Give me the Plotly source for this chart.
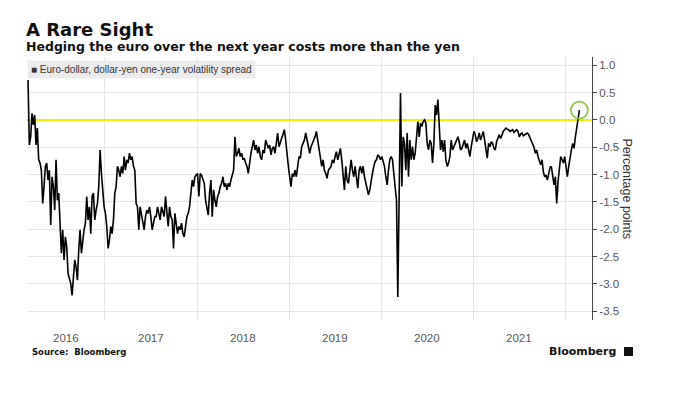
import pandas as pd
import plotly.graph_objects as go

# ---- data (percentage points), roughly 5-day spacing ----
spread_2016_17 = [0.73, -0.46, -0.31, 0.12, -0.09, 0.09, -0.46, -0.15, -0.73, -0.79,
                  -0.92, -1.53, -1.22, -0.85, -0.79, -1.10, -0.92, -1.92, -1.04, -1.22,
                  -1.65, -0.73, -1.47, -1.34, -1.89, -2.44, -2.01, -2.56, -2.14, -2.32,
                  -2.81, -2.93, -2.99, -3.21, -2.93, -2.56, -2.69, -2.93, -2.38, -2.01,
                  -2.44, -2.20, -2.01, -1.89, -1.40, -1.83, -1.59, -2.08, -1.40, -1.34,
                  -1.83, -1.65, -1.53, -1.22, -0.55, -0.98, -1.34, -1.59, -1.71, -1.95,
                  -2.35, -2.20, -1.95, -2.08, -1.83, -1.34, -1.22, -0.85, -0.92, -1.04,
                  -0.85, -0.98, -0.67, -0.92, -0.73, -0.79, -0.61, -0.73, -0.67, -0.85,
                  -0.92, -1.53, -1.59, -2.01, -1.59, -1.71, -1.83, -2.01, -1.77, -1.65,
                  -1.71, -1.59, -1.77, -2.01, -1.89, -1.77, -1.77, -1.59, -1.71, -1.83,
                  -1.59, -1.71, -1.77, -1.40, -1.65, -1.95, -1.59, -1.77]

spread_2017_19 = [-1.83, -2.35, -1.71, -1.89, -2.08, -1.95, -2.01, -1.89, -2.08, -2.14,
                  -1.95, -1.77, -1.71, -1.59, -1.34, -1.10, -1.22, -1.04, -1.01, -0.98,
                  -1.40, -0.98, -1.01, -1.10, -1.16, -1.47, -1.59, -1.74, -1.34, -1.10,
                  -1.77, -1.28, -1.47, -1.59, -1.40, -1.34, -1.22, -1.16, -1.04, -1.22,
                  -1.16, -1.28, -1.16, -1.22, -1.10, -0.98, -0.92,
                  -0.31, -0.67, -0.61, -0.52, -0.67, -0.61, -0.73, -0.70, -0.79, -0.85,
                  -0.98, -0.73, -0.61, -0.49, -0.37, -0.55, -0.46, -0.61, -0.49, -0.67,
                  -0.73, -0.55, -0.61, -0.37, -0.43, -0.52, -0.46, -0.64, -0.52, -0.49,
                  -0.61, -0.37, -0.24, -0.49, -0.40, -0.31, -0.24, -0.18, -0.37, -0.67,
                  -0.85, -1.04, -1.22, -0.98, -1.04, -0.92, -1.04, -0.85, -0.67, -0.70,
                  -0.49, -0.43, -0.37, -0.24, -0.37, -0.52, -0.61]

spread_2019_20 = [-0.49, -0.43, -0.40, -0.31, -0.21, -0.37, -0.49, -0.67, -0.85, -0.73,
                  -0.92, -0.98, -1.07, -0.92, -0.89, -0.85, -0.73, -0.79, -0.67, -0.58,
                  -0.73, -0.61, -0.52, -0.73, -1.04, -1.28, -0.85, -1.10, -1.16, -0.98,
                  -0.73, -0.92, -1.04, -0.85, -1.04, -1.25, -0.92, -0.85, -0.98, -0.85,
                  -1.04, -1.16, -1.22, -1.37, -1.28, -1.10, -0.98, -0.85, -0.76, -0.73,
                  -0.64, -0.67, -0.73, -0.67, -0.79, -0.85, -1.04, -1.19, -0.92, -0.73,
                  -0.67, -0.73, -0.98,
                  -1.22, -1.47, -3.24, -0.73, 0.49, -1.22, -0.31, -0.43, -0.92, -0.24,
                  -1.04, -0.37, -0.73, -0.49, -0.73, -0.61, -0.24, -0.03, -0.31, -0.06,
                  -0.12, -0.03, 0.00, -0.06, -0.43, -0.55, -0.37, -0.43, -0.79, -0.43,
                  0.27, 0.09, 0.37, -0.18, -0.55, -0.37, -0.58, -0.37, -0.73, -0.85,
                  -0.79, -0.67]

spread_2020_22 = [-0.37, -0.55, -0.49, -0.43, -0.37, -0.31, -0.40, -0.55, -0.52, -0.43,
                  -0.37, -0.52, -0.43, -0.55, -0.67, -0.49, -0.37, -0.21, -0.27, -0.40,
                  -0.34, -0.24, -0.37, -0.27, -0.21, -0.37, -0.55, -0.70, -0.43, -0.49,
                  -0.40, -0.43, -0.52, -0.55, -0.40, -0.34, -0.27, -0.34, -0.27, -0.21,
                  -0.18, -0.15, -0.17, -0.18, -0.21, -0.20, -0.18, -0.23, -0.21, -0.18,
                  -0.21, -0.31, -0.26, -0.24, -0.29, -0.27, -0.26, -0.24, -0.27, -0.32,
                  -0.37, -0.43, -0.50, -0.61, -0.55, -0.67, -0.73, -0.82, -0.73, -0.95,
                  -1.04, -1.01, -1.10, -0.95, -0.87, -0.85, -1.01, -1.19, -1.04, -1.53,
                  -1.13, -0.95, -0.67, -0.73, -0.79, -0.67, -0.92, -1.04, -0.85, -0.67,
                  -0.55, -0.43, -0.52, -0.31, -0.12, -0.03, 0.18]

START_DATE = "2016-03-02"
END_DATE = "2022-02-25"

X_RANGE = ["2016-02-27", "2022-04-16"]
YEAR_BOUNDS = ["2017-01-01", "2018-01-01", "2019-01-01", "2020-01-01", "2021-01-01", "2022-01-01"]
YEAR_LABELS = ["2016", "2017", "2018", "2019", "2020", "2021"]

Y_RANGE = [-3.66, 1.15]
Y_TICKS = [1.0, 0.5, 0.0, -0.5, -1.0, -1.5, -2.0, -2.5, -3.0, -3.5]
Y_TICKTEXT = ["1.0", "0.5", "0.0", "-0.5", "-1.0", "-1.5", "-2.0", "-2.5", "-3.0", "-3.5"]

# ---- build ----
values = spread_2016_17 + spread_2017_19 + spread_2019_20 + spread_2020_22
dates = pd.date_range(START_DATE, END_DATE, periods=len(values))

# year label positions: centre of the visible part of each year
rng_lo, rng_hi = pd.Timestamp(X_RANGE[0]), pd.Timestamp(X_RANGE[1])
label_pos = []
for y in YEAR_LABELS:
    a = max(pd.Timestamp(f"{y}-01-01"), rng_lo)
    b = min(pd.Timestamp(f"{int(y) + 1}-01-01"), rng_hi)
    label_pos.append(a + (b - a) / 2)

FONT = "DejaVu Sans"
TICKFONT = "Liberation Sans"

fig = go.Figure()
fig.add_trace(go.Scatter(x=dates, y=values, mode="lines",
                         line=dict(color="#000000", width=1.6),
                         hoverinfo="skip", showlegend=False))
fig.add_trace(go.Scatter(x=[dates[-1]], y=[values[-1]], mode="markers",
                         marker=dict(symbol="circle-open", size=17, color="#8cc63f",
                                     line=dict(width=1.7, color="#8cc63f")),
                         hoverinfo="skip", showlegend=False))

annotations = [
    dict(text="<b>A Rare Sight</b>", xref="paper", yref="paper", x=0, y=1.1046,
         xanchor="left", yanchor="middle", showarrow=False, xshift=-3,
         font=dict(family=FONT, size=18, color="#111111")),
    dict(text="<b>Hedging the euro over the next year costs more than the yen</b>",
         xref="paper", yref="paper", x=0, y=1.040, xanchor="left", yanchor="middle",
         showarrow=False, xshift=-3, font=dict(family=FONT, size=12.5, color="#111111")),
    dict(text="■ Euro-dollar, dollar-yen one-year volatility spread",
         xref="paper", yref="paper", x=0, y=0.9886, xanchor="left", yanchor="top",
         showarrow=False, bgcolor="#ebebeb", borderpad=3,
         font=dict(family=TICKFONT, size=10, color="#333333")),
    dict(text="Percentage points", xref="paper", yref="paper", x=1.062, y=0.5,
         xanchor="center", yanchor="middle", textangle=90, showarrow=False,
         font=dict(family=TICKFONT, size=12.5, color="#333333")),
    dict(text="<b>Source:  Bloomberg</b>", xref="paper", yref="paper", x=0.0053,
         y=-0.1217, xanchor="left", yanchor="middle", showarrow=False,
         font=dict(family=FONT, size=8.5, color="#111111")),
    dict(text="<b>Bloomberg</b>", xref="paper", yref="paper", x=1.046, y=-0.118,
         xanchor="right", yanchor="middle", showarrow=False,
         font=dict(family=FONT, size=11, color="#111111")),
]
# year tick labels (centred in each visible year)
for pos, lab in zip(label_pos, YEAR_LABELS):
    annotations.append(dict(text=lab, xref="x", yref="paper", x=pos, y=-0.068,
                            xanchor="center", yanchor="middle", showarrow=False,
                            font=dict(family=TICKFONT, size=11.5, color="#555555")))

fig.update_layout(
    width=681, height=394,
    margin=dict(l=27, r=89, t=57, b=74),
    paper_bgcolor="white", plot_bgcolor="white",
    showlegend=False,
    xaxis=dict(type="date", range=X_RANGE, tickvals=YEAR_BOUNDS, showticklabels=False,
               showgrid=True, gridcolor="#e6e6e6", gridwidth=1, zeroline=False,
               showline=False, ticks=""),
    yaxis=dict(side="right", range=Y_RANGE, tickvals=Y_TICKS, ticktext=Y_TICKTEXT,
               showgrid=True, gridcolor="#e6e6e6", gridwidth=1,
               zeroline=True, zerolinecolor="#f0ec00", zerolinewidth=1.6,
               showline=True, linecolor="#444444", linewidth=1,
               ticks="outside", ticklen=4, tickcolor="#444444",
               tickfont=dict(family=TICKFONT, size=11.5, color="#555555")),
    annotations=annotations,
    shapes=[
        dict(type="rect", xref="paper", yref="paper", x0=1.0566, x1=1.0726,
             y0=-0.137, y1=-0.1027, fillcolor="#111111", line=dict(width=0)),
    ],
)

fig.write_html("out.html", config={"displayModeBar": False},
               post_script="document.body.style.margin='0';")
